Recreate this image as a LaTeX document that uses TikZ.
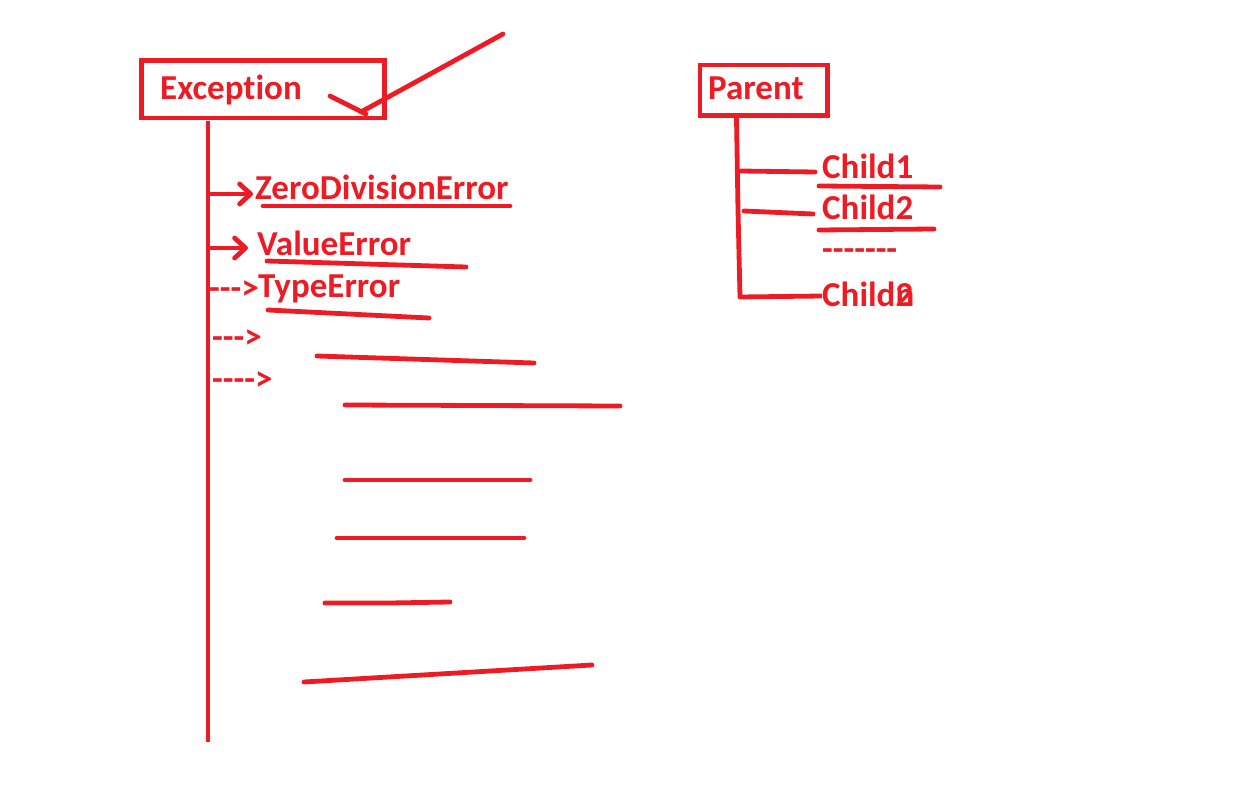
\documentclass[tikz,border=0pt]{standalone}
\usepackage{fontspec}
\setmainfont{Carlito}[Ligatures={NoCommon,NoRare,NoContextual}]
\usetikzlibrary{arrows.meta}
\definecolor{pred}{HTML}{ED1C24}
\tikzset{
  lbl/.style={inner sep=0pt, anchor=base west, text=pred, font=\bfseries\fontsize{35}{40}\selectfont},
  boxstyle/.style={draw=pred, line width=4.8pt},
  pen/.style={draw=pred, line width=4.8pt, line cap=round, line join=round},
  penarrow/.style={pen, -{Straight Barb[length=11pt,width=20pt,line cap=round,line join=round]}},
}
\begin{document}
\begin{tikzpicture}[x=1pt,y=-1pt]
\useasboundingbox (0,0) rectangle (1250,810);
% Exception box
\draw[boxstyle] (141.5,60.5) rectangle (384.5,118);
\node[lbl] (exc) at (160,100) {Exception};
\coordinate (exctop) at (208,121);
% diagonal arrow pointing to box
\coordinate (dA) at (503,34);
\coordinate (dB) at (361,112);
\coordinate (dC) at (330,96);
\coordinate (dD) at (366,114);
\draw[pen] (dA) -- (dB);
\draw[pen] (dC) -- (dD);
% vertical trunk
\coordinate (trunkbot) at (208,742);
\draw[pen, line cap=butt] (exctop) -- (trunkbot);
% children
\node[lbl] (zde) at (255,200) {ZeroDivisionError};
\node[lbl] (ve) at (257,256) {ValueError};
\node[lbl] (te) at (258,298) {TypeError};
\node[lbl] (d1) at (209,300) {{-}{-}{-}>};
\node[lbl] (d2) at (212,348) {{-}{-}{-}>};
\node[lbl] (d3) at (212,390) {{-}{-}{-}{-}>};
\coordinate (z0) at (210,194);
\coordinate (z1) at (253,194);
\coordinate (v0) at (210,248);
\coordinate (v1) at (248,248);
\draw[penarrow] (z0) -- (z1);
\draw[penarrow] (v0) -- (v1);
% underlines and blank lines
\draw[pen] (263,206) -- (510,206);
\draw[pen] (267,261) -- (466,267);
\draw[pen] (268,310) -- (429,318);
\draw[pen] (317,356) -- (534,363);
\draw[pen] (345,405) -- (620,406);
\draw[pen] (345,480) -- (530,480);
\draw[pen] (337,538) -- (524,538);
\draw[pen] (325,603) -- (390,603) -- (450,602);
\draw[pen] (304,682) -- (592,665);
% Parent
\draw[boxstyle] (700,65) rectangle (827.5,115.5);
\node[lbl] (par) at (708,100) {Parent};
\coordinate (ptop) at (736.5,118);
\coordinate (pmid) at (738,210);
\coordinate (pbot) at (740,297);
\draw[pen, line cap=butt] (ptop) -- (pmid) -- (pbot) -- (822,296);
\node[lbl] (c1) at (822,179) {Child1};
\node[lbl] (c2) at (822,220) {Child2};
\node[lbl] (dots) at (822,261) {{-}{-}{-}{-}{-}{-}{-}};
\node[lbl] (cn) at (822,306) {Child\rlap{2}n};
\draw[pen] (740,171) -- (815,172);
\draw[pen] (744,211) -- (813,214);
\draw[pen] (819,186) -- (940,187);
\draw[pen] (819,230) -- (934,229);
\end{tikzpicture}
\end{document}
